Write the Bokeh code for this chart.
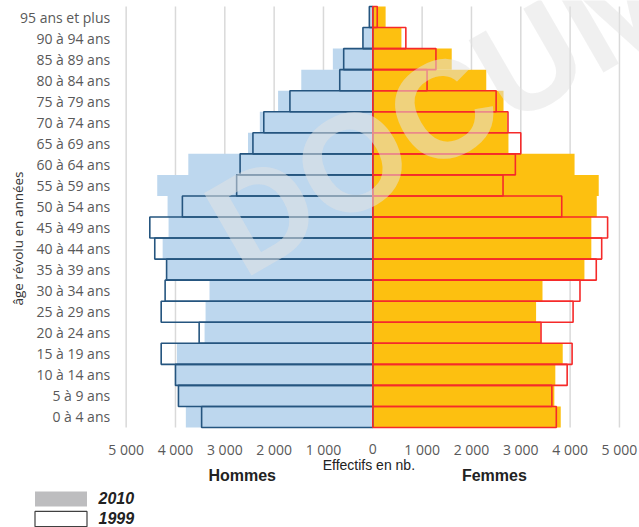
from bokeh.plotting import figure
from bokeh.models import (ColumnDataSource, Range1d, Label, Legend, LegendItem)
from bokeh.core.properties import value
from bokeh.embed import file_html
from bokeh.resources import INLINE
import math

# ---- data (bottom to top) ----
age_groups = ["0 à 4 ans", "5 à 9 ans", "10 à 14 ans", "15 à 19 ans", "20 à 24 ans",
              "25 à 29 ans", "30 à 34 ans", "35 à 39 ans", "40 à 44 ans", "45 à 49 ans",
              "50 à 54 ans", "55 à 59 ans", "60 à 64 ans", "65 à 69 ans", "70 à 74 ans",
              "75 à 79 ans", "80 à 84 ans", "85 à 89 ans", "90 à 94 ans", "95 ans et plus"]
hommes_2010 = [3790, 3930, 3990, 3970, 3410, 3390, 3310, 4170, 4260, 4140,
               4160, 4370, 3740, 2530, 2290, 1920, 1450, 810, 200, 60]
hommes_1999 = [3470, 3940, 4000, 4290, 3520, 4290, 4210, 4180, 4420, 4520,
               3860, 2760, 2690, 2430, 2210, 1680, 670, 590, 200, 70]
femmes_2010 = [3810, 3680, 3700, 3850, 3400, 3310, 3440, 4290, 4430, 4430,
               4540, 4580, 4090, 2750, 2720, 2650, 2300, 1600, 580, 260]
femmes_1999 = [3720, 3630, 3940, 4040, 3410, 4060, 4200, 4530, 4640, 4760,
               3830, 2640, 2890, 3000, 2740, 2500, 1100, 1280, 670, 90]
x_ticks = [-5000, -4000, -3000, -2000, -1000, 0, 1000, 2000, 3000, 4000, 5000]
x_tick_labels = ["5 000", "4 000", "3 000", "2 000", "1 000", "0",
                 "1 000", "2 000", "3 000", "4 000", "5 000"]

# ---- layout constants (pixels) ----
W, H = 639, 527
ZERO_PX = 372.3          # where 0 sits horizontally
PX_PER_UNIT = 0.04933    # horizontal scale
PLOT_TOP, PLOT_BOTTOM = 6, 427
n = len(age_groups)
row_h = (PLOT_BOTTOM - PLOT_TOP) / n

x_start = -ZERO_PX / PX_PER_UNIT
x_end = (W - ZERO_PX) / PX_PER_UNIT
y_start = -0.5 - (H - PLOT_BOTTOM) / row_h
y_end = n - 0.5 + PLOT_TOP / row_h

idx = list(range(n))
src = ColumnDataSource(dict(
    y=idx,
    h10=[-v for v in hommes_2010],
    h99=[-v for v in hommes_1999],
    f10=femmes_2010,
    f99=femmes_1999,
    zero=[0] * n,
))

p = figure(width=W, height=H, output_backend="svg", toolbar_location=None,
           x_range=Range1d(x_start, x_end), y_range=Range1d(y_start, y_end),
           x_axis_location=None, y_axis_location=None,
           min_border=0, min_border_left=0, min_border_right=0,
           min_border_top=0, min_border_bottom=0)
p.outline_line_color = None
p.xgrid.grid_line_color = None
p.ygrid.grid_line_color = None

bottom_edge = -0.5
top_edge = n - 0.5

# vertical grid lines
p.segment(x0=x_ticks, x1=x_ticks, y0=[bottom_edge] * len(x_ticks), y1=[top_edge] * len(x_ticks),
          line_color="#D9D9D9", line_width=1.5)

# bars
p.hbar(y="y", left="h10", right="zero", height=1.0, source=src,
       fill_color="#BDD7EE", line_color=None)
p.hbar(y="y", left="zero", right="f10", height=1.0, source=src,
       fill_color="#FDC010", line_color=None)
p.segment(x0=[0], x1=[0], y0=[bottom_edge], y1=[top_edge], line_color="#D4A0A8", line_width=1.5)
p.hbar(y="y", left="h99", right="zero", height=1.0, source=src,
       fill_color=None, line_color="#25557F", line_width=1.6)
p.hbar(y="y", left="zero", right="f99", height=1.0, source=src,
       fill_color=None, line_color="#F52A2A", line_width=1.6)

# category labels (left)
p.text(x=[x_ticks[0]] * n, y=idx, text=age_groups, x_offset=-16,
       text_align="right", text_baseline="middle",
       text_font=value("Open Sans"), text_font_size=value("14px"), text_color="#595959")

# x tick labels
p.text(x=x_ticks, y=[bottom_edge] * len(x_ticks), text=x_tick_labels, y_offset=21.5,
       text_align="center", text_baseline="middle",
       text_font=value("Open Sans"), text_font_size=value("14px"), text_color="#595959")

# axis titles
p.add_layout(Label(x=17.5, y=H - 238, x_units="screen", y_units="screen",
                   text="âge révolu en années", angle=math.pi / 2,
                   text_align="center", text_baseline="middle",
                   text_font="Open Sans", text_font_size="13.5px", text_color="#333333"))
p.add_layout(Label(x=-80, y=H - 464, x_units="data", y_units="screen", text="Effectifs en nb.",
                   text_align="center", text_baseline="middle",
                   text_font="Liberation Sans", text_font_size="14px", text_color="#222222"))
for xx, txt in [(-2647, "Hommes"), (2465, "Femmes")]:
    p.add_layout(Label(x=xx, y=H - 474.5, x_units="data", y_units="screen", text=txt,
                       text_align="center", text_baseline="middle",
                       text_font="Liberation Sans", text_font_style="bold",
                       text_font_size="16px", text_color="#222222"))

# legend (dummy renderers placed outside the visible range)
dummy = ColumnDataSource(dict(y=[y_start - 10], l=[0], r=[0]))
r2010 = p.hbar(y="y", left="l", right="r", height=1, source=dummy,
               fill_color="#BDBDBF", line_color=None)
r1999 = p.hbar(y="y", left="l", right="r", height=1, source=dummy,
               fill_color="white", line_color="#404040", line_width=1.2)
legend = Legend(items=[LegendItem(label="2010", renderers=[r2010]),
                       LegendItem(label="1999", renderers=[r1999])],
                location=(27.5, -1), orientation="vertical",
                glyph_width=65, glyph_height=19, label_height=18, spacing=1,
                padding=0, margin=0, label_standoff=6,
                border_line_color=None, background_fill_alpha=0,
                label_text_font="Liberation Sans", label_text_font_style="bold italic",
                label_text_font_size="16px", label_text_color="#222222")
p.add_layout(legend)

# watermark
p.add_layout(Label(x=219, y=H - 238, x_units="screen", y_units="screen", text="DOCUMENT",
                   angle=math.radians(30), text_align="left", text_baseline="alphabetic",
                   text_font="Liberation Sans", text_font_style="bold",
                   text_font_size="138px", text_color="#E2E2E2", text_alpha=0.52))

open("out.html", "w").write(file_html(p, INLINE))
